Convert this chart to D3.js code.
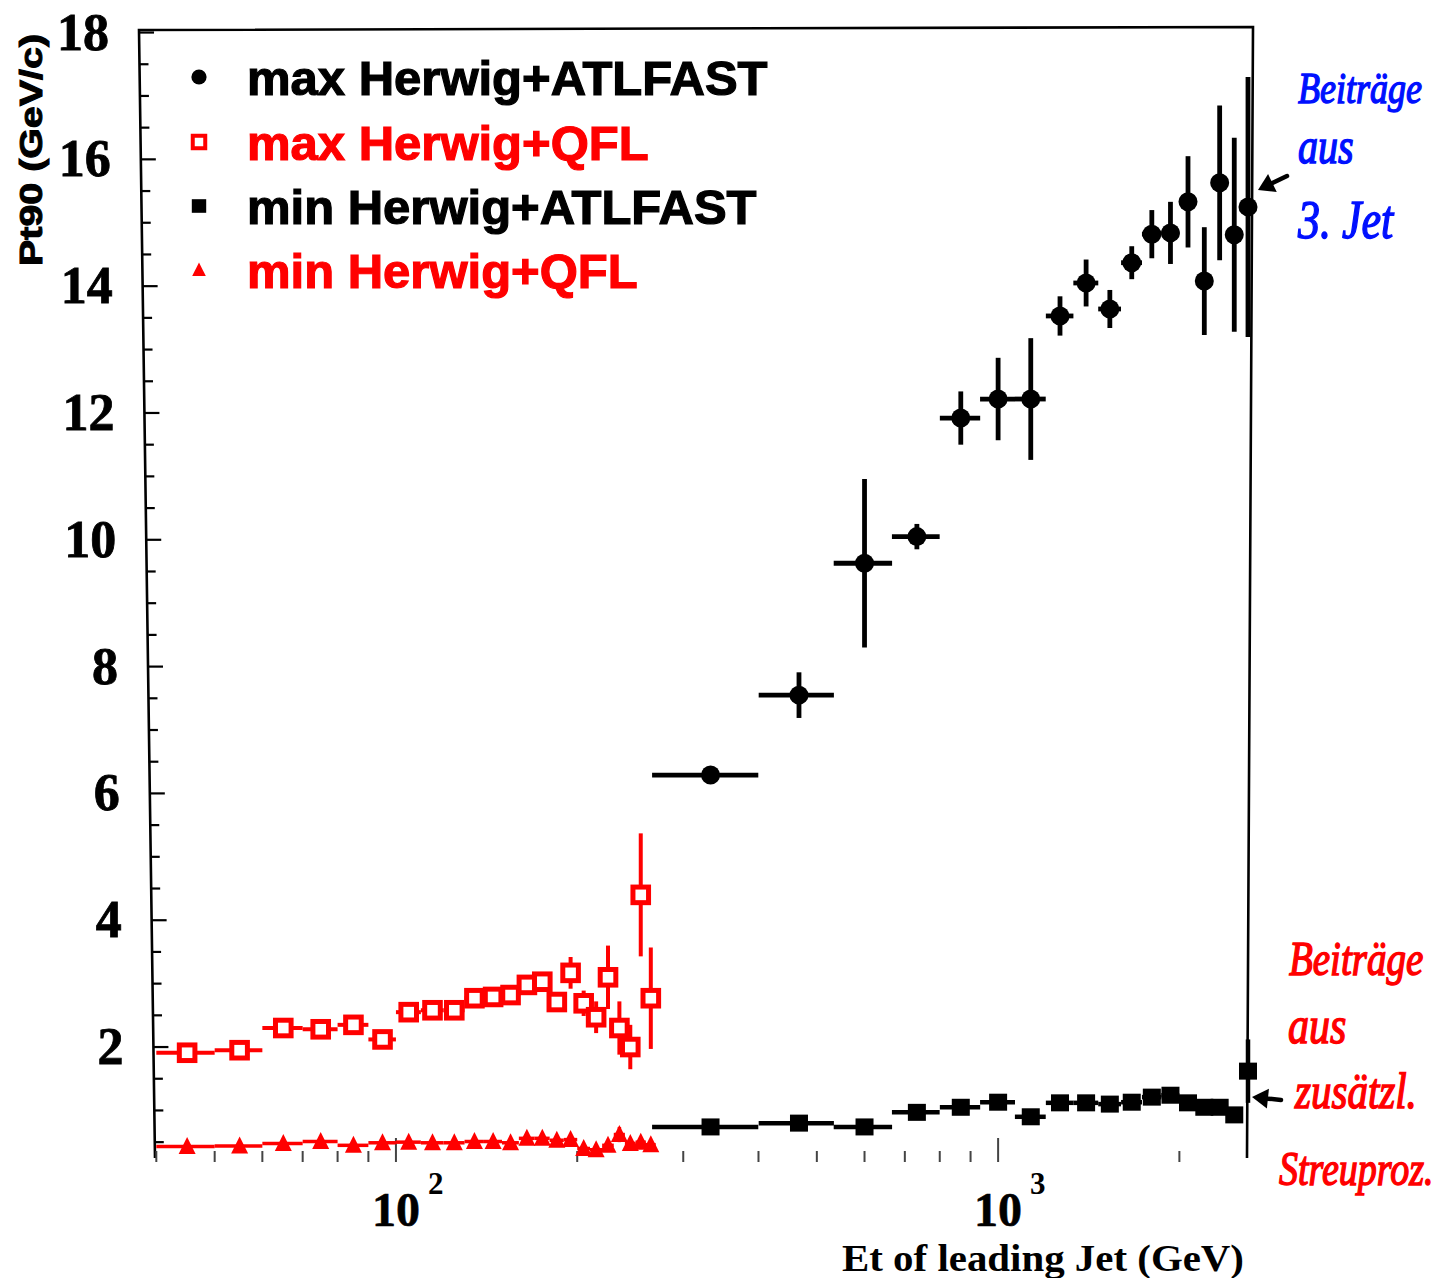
<!DOCTYPE html>
<html>
<head>
<meta charset="utf-8">
<script src="https://cdn.jsdelivr.net/npm/d3@7"></script>
<style>
  html, body { margin: 0; padding: 0; background: #ffffff; }
  svg { display: block; }
</style>
</head>
<body>
<svg id="chart" width="1453" height="1278"></svg>
<script>
// ---- data: transverse-region activity versus Et of the leading jet ----
// Herwig + QFL, 10 GeV bins (bin centres, GeV)
const qflEt = [45, 55, 65, 75, 85, 95, 105, 115, 125, 135, 145, 155, 165, 175, 185, 195, 205, 215, 225, 235, 245, 255, 265];
const qflHalfBin = 5;
const maxQflValue = [1.91, 1.95, 2.30, 2.28, 2.35, 2.12, 2.55, 2.58, 2.58, 2.77, 2.79, 2.82, 2.98, 3.03, 2.71, 3.17, 2.69, 2.47, 3.10, 2.30, 2.00, 4.40, 2.77];
const maxQflError = [0.06, 0.06, 0.07, 0.07, 0.08, 0.08, 0.09, 0.09, 0.10, 0.10, 0.11, 0.12, 0.12, 0.13, 0.14, 0.25, 0.20, 0.25, 0.50, 0.42, 0.35, 0.97, 0.80];
const minQflValue = [0.43, 0.44, 0.48, 0.51, 0.45, 0.49, 0.50, 0.49, 0.49, 0.51, 0.51, 0.49, 0.56, 0.56, 0.53, 0.54, 0.40, 0.38, 0.45, 0.62, 0.48, 0.50, 0.46];
const minQflError = [0.03, 0.03, 0.03, 0.03, 0.03, 0.03, 0.03, 0.03, 0.03, 0.03, 0.03, 0.03, 0.04, 0.04, 0.04, 0.04, 0.05, 0.05, 0.06, 0.12, 0.06, 0.07, 0.07];

// Herwig + ATLFAST, 133 GeV bins (bin centres, GeV)
const atlEt = [333, 467, 600, 733, 867, 1000, 1133, 1267, 1400, 1533, 1667, 1800, 1933, 2067, 2200, 2333, 2467, 2600];
const atlHalfBin = 66.7;
const maxAtlValue = [6.29, 7.55, 9.63, 10.05, 11.92, 12.22, 12.22, 13.53, 14.05, 13.64, 14.37, 14.82, 14.84, 15.33, 14.08, 15.63, 14.81, 15.25];
const maxAtlError = [0.05, 0.36, 1.33, 0.20, 0.42, 0.65, 0.96, 0.31, 0.37, 0.30, 0.26, 0.38, 0.49, 0.72, 0.85, 1.22, 1.53, 2.05];
const minAtlValue = [0.74, 0.80, 0.74, 0.97, 1.05, 1.13, 0.90, 1.12, 1.12, 1.10, 1.13, 1.21, 1.24, 1.12, 1.05, 1.05, 0.93, 1.62];
const minAtlError = [0.03, 0.03, 0.04, 0.04, 0.04, 0.05, 0.05, 0.05, 0.05, 0.05, 0.06, 0.06, 0.06, 0.07, 0.07, 0.08, 0.08, 0.50];

// axis labelling
const yTickValues = [2, 4, 6, 8, 10, 12, 14, 16, 18];
const xDecades = [100, 1000];
const xDecadeExponents = ["2", "3"];
const legendLabels = ["max Herwig+ATLFAST", "max Herwig+QFL", "min Herwig+ATLFAST", "min Herwig+QFL"];
const legendColors = ["#000000", "#ff0000", "#000000", "#ff0000"];
const legendSymbols = ["circle", "openSquare", "square", "triangle"];
const noteTop = ["Beiträge", "aus", "3. Jet"];
const noteBottom = ["Beiträge", "aus", "zusätzl.", "Streuproz."];

// ---- drawing ----
const svg = d3.select("#chart");
const RED = "#ff0000", BLACK = "#000000", BLUE = "#0010ff";

const x = d3.scaleLog().domain([38.6, 2620]).range([147, 1250]);
const y = d3.scaleLinear().domain([0.25, 18.04]).range([1158, 30]);

// the printed frame is slightly trapezoidal
const frameTop = 30, frameBottom = 1158;
const leftEdge = yy => 139 + (yy - frameTop) * 16 / (frameBottom - frameTop);
const rightEdge = yy => 1253 - (yy - frameTop) * 6 / (frameBottom - frameTop);

const serif = "'Liberation Serif', 'Times New Roman', serif";
const sans = "'Liberation Sans', Arial, Helvetica, sans-serif";

// frame (no bottom line survives on the print, only its ticks)
svg.append("path")
  .attr("d", `M${leftEdge(frameBottom)},${frameBottom} L${leftEdge(frameTop)},${frameTop} L${rightEdge(frameTop)},${frameTop - 3} L${rightEdge(frameBottom)},${frameBottom}`)
  .attr("fill", "none").attr("stroke", BLACK).attr("stroke-width", 2.6);

// y axis ticks: minor every 0.5, major every 2
const yMinor = d3.range(0.5, 18.01, 0.5);
svg.append("g").selectAll("line").data(yMinor).join("line")
  .attr("x1", d => leftEdge(y(d)))
  .attr("x2", d => leftEdge(y(d)) + (d % 2 === 0 ? 15 : 9))
  .attr("y1", d => y(d)).attr("y2", d => y(d))
  .attr("stroke", BLACK).attr("stroke-width", 2.2);

svg.append("g").selectAll("text").data(yTickValues).join("text")
  .attr("x", d => leftEdge(y(d)) - 30)
  .attr("y", d => y(d) + 17)
  .attr("text-anchor", "end")
  .attr("font-family", serif).attr("font-weight", "bold").attr("font-size", 52)
  .attr("fill", BLACK).attr("stroke", BLACK).attr("stroke-width", 0.8)
  .text(d => d);

// x axis ticks (log), pointing up from the lower edge
const xTicks = x.ticks();
svg.append("g").selectAll("line").data(xTicks).join("line")
  .attr("x1", d => x(d)).attr("x2", d => x(d))
  .attr("y1", 1162)
  .attr("y2", d => xDecades.includes(d) ? 1138 : 1151)
  .attr("stroke", "#444").attr("stroke-width", 2);

const xLab = svg.append("g").selectAll("g").data(xDecades).join("g");
xLab.append("text")
  .attr("x", d => x(d)).attr("y", 1226)
  .attr("text-anchor", "middle")
  .attr("font-family", serif).attr("font-weight", "bold").attr("font-size", 48)
  .attr("stroke", BLACK).attr("stroke-width", 0.6)
  .text("10");
xLab.append("text")
  .attr("x", d => x(d) + 32).attr("y", 1194)
  .attr("font-family", serif).attr("font-weight", "bold").attr("font-size", 31)
  .text((d, i) => xDecadeExponents[i]);

// axis titles
svg.append("text")
  .attr("x", 842).attr("y", 1271)
  .attr("font-family", serif).attr("font-weight", "bold").attr("font-size", 38)
  .attr("textLength", 402).attr("lengthAdjust", "spacingAndGlyphs")
  .text("Et of leading Jet (GeV)");

svg.append("text")
  .attr("transform", "translate(42,150) rotate(-90)")
  .attr("text-anchor", "middle")
  .attr("font-family", sans).attr("font-weight", "bold").attr("font-size", 32)
  .attr("stroke", BLACK).attr("stroke-width", 1)
  .attr("textLength", 232).attr("lengthAdjust", "spacingAndGlyphs")
  .text("Pt90 (GeV/c)");

// ---- series ----
function series(etArr, vals, errs, halfBin, color, barWidth) {
  const rows = etArr.map((e, i) => ({ e, v: vals[i], err: errs[i] }));
  const g = svg.append("g");
  g.selectAll(".h").data(rows).join("line")
    .attr("x1", d => x(d.e - halfBin)).attr("x2", d => x(d.e + halfBin))
    .attr("y1", d => y(d.v)).attr("y2", d => y(d.v))
    .attr("stroke", color).attr("stroke-width", barWidth);
  g.selectAll(".v").data(rows).join("line")
    .attr("x1", d => x(d.e)).attr("x2", d => x(d.e))
    .attr("y1", d => y(d.v - d.err)).attr("y2", d => y(d.v + d.err))
    .attr("stroke", color).attr("stroke-width", barWidth);
  return { g, rows };
}

function drawSymbol(sel, kind, color, s) {
  if (kind === "circle") {
    sel.append("circle").attr("r", 9.5 * s).attr("fill", color);
  } else if (kind === "openSquare") {
    sel.append("rect").attr("x", -7.8 * s).attr("y", -7.8 * s).attr("width", 15.6 * s).attr("height", 15.6 * s)
      .attr("fill", "#fff").attr("stroke", color).attr("stroke-width", 5 * s);
  } else if (kind === "square") {
    sel.append("rect").attr("x", -9 * s).attr("y", -8.5 * s).attr("width", 18 * s).attr("height", 17 * s).attr("fill", color);
  } else if (kind === "triangle") {
    sel.append("path").attr("d", `M0,${-9.5 * s} L${8.5 * s},${7.5 * s} L${-8.5 * s},${7.5 * s} Z`).attr("fill", color);
  }
}

function markers(s, kind, color) {
  s.g.selectAll(".m").data(s.rows).join("g")
    .attr("transform", d => `translate(${x(d.e)},${y(d.v)})`)
    .each(function () { drawSymbol(d3.select(this), kind, color, 1); });
}

const sMinQfl = series(qflEt, minQflValue, minQflError, qflHalfBin, RED, 3.5);
markers(sMinQfl, "triangle", RED);
const sMaxQfl = series(qflEt, maxQflValue, maxQflError, qflHalfBin, RED, 4);
markers(sMaxQfl, "openSquare", RED);
const sMinAtl = series(atlEt, minAtlValue, minAtlError, atlHalfBin, BLACK, 4.5);
markers(sMinAtl, "square", BLACK);
const sMaxAtl = series(atlEt, maxAtlValue, maxAtlError, atlHalfBin, BLACK, 4.8);
markers(sMaxAtl, "circle", BLACK);

// ---- legend ----
const legendBaselines = [95, 160, 224, 288];
const leg = svg.append("g").selectAll("g").data(legendLabels).join("g")
  .attr("transform", (d, i) => `translate(0,${legendBaselines[i]})`);
leg.each(function (d, i) {
  const gg = d3.select(this).append("g").attr("transform", "translate(199,-18)");
  drawSymbol(gg, legendSymbols[i], legendColors[i], 0.8);
});
leg.append("text")
  .attr("x", 247).attr("y", 0)
  .attr("font-family", sans).attr("font-weight", "bold").attr("font-size", 49)
  .attr("fill", (d, i) => legendColors[i])
  .attr("stroke", (d, i) => legendColors[i]).attr("stroke-width", 1.2)
  .text(d => d);

// ---- handwritten notes (italic, stretched upright like pen writing) ----
const hand = "'Liberation Serif', serif";
function notes(lines, pos, color) {
  svg.append("g").selectAll("text").data(lines).join("text")
    .attr("transform", (d, i) => `translate(${pos[i][0]},${pos[i][1]}) scale(1,1.25)`)
    .attr("font-size", (d, i) => pos[i][2])
    .attr("font-family", hand).attr("font-style", "italic")
    .attr("fill", color).attr("stroke", color).attr("stroke-width", 1.2)
    .text(d => d);
}
notes(noteTop, [[1298, 103, 36], [1298, 163, 40], [1298, 238, 44]], BLUE);
notes(noteBottom, [[1289, 975, 39], [1288, 1043, 42], [1295, 1108, 41], [1279, 1185, 38]], RED);

// arrows pointing at the right-most bins
function arrow(x1, y1, x2, y2) {
  const a = Math.atan2(y2 - y1, x2 - x1);
  const L = 16, W = 10;
  const bx = x2 - L * Math.cos(a), by = y2 - L * Math.sin(a);
  svg.append("line").attr("x1", x1).attr("y1", y1).attr("x2", bx).attr("y2", by)
    .attr("stroke", BLACK).attr("stroke-width", 4.5).attr("stroke-linecap", "round");
  svg.append("path")
    .attr("d", `M${x2},${y2} L${bx + W * Math.sin(a)},${by - W * Math.cos(a)} L${bx - W * Math.sin(a)},${by + W * Math.cos(a)} Z`)
    .attr("fill", BLACK);
}
arrow(1287, 176, 1258, 190);
arrow(1281, 1100, 1252, 1097);
</script>
</body>
</html>
